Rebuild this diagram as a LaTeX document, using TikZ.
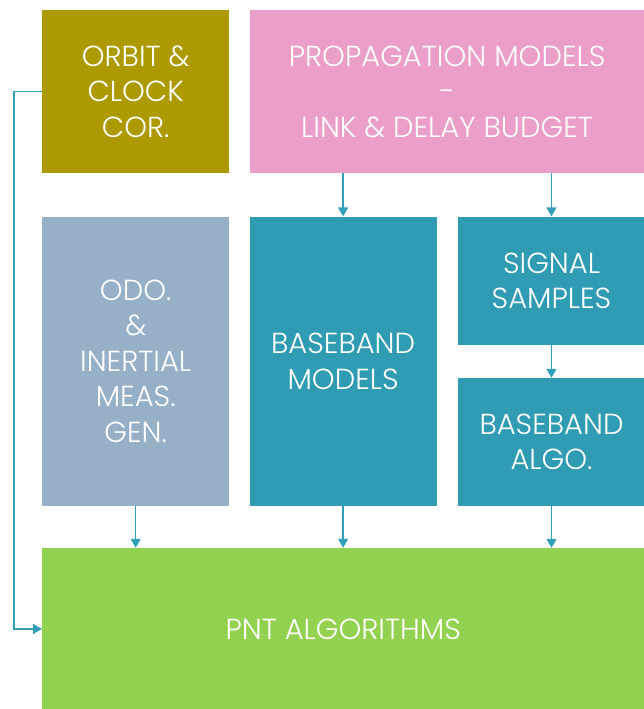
\documentclass[tikz,border=0pt]{standalone}
\usepackage{fontspec}
\setmainfont{Poppins}[UprightFont=* Light]
\usepackage{tikz}
\usetikzlibrary{positioning}
\usetikzlibrary{arrows.meta}
\definecolor{olivebox}{RGB}{173,154,0}
\definecolor{pinkbox}{RGB}{234,158,200}
\definecolor{greybox}{RGB}{150,176,200}
\definecolor{tealbox}{RGB}{48,156,180}
\definecolor{greenbox}{RGB}{146,210,80}
\definecolor{linkcol}{RGB}{48,160,185}
\tikzset{block/.style={rectangle,inner sep=0pt,align=center,text=white,font=\fontsize{29}{35.5}\selectfont}}
\tikzset{link/.style={draw=linkcol,line width=1.4pt,-{Triangle[length=9pt,width=10pt]}}}

\begin{document}
\begin{tikzpicture}[x=1pt,y=1pt,node distance=20pt]
  \useasboundingbox (0,0) rectangle (644,-709);
  \node [block,fill=olivebox,minimum width=187pt,minimum height=163pt,anchor=north west]
    (orbit) at (42,-10) {ORBIT \&\\CLOCK\\COR.};
  \node [block,fill=pinkbox,minimum width=395pt,minimum height=163pt,right=20pt of orbit]
    (prop) {PROPAGATION MODELS\\-\\LINK \& DELAY BUDGET};
  \node [block,fill=greybox,minimum width=187pt,minimum height=289pt,below=43pt of orbit]
    (odo) {ODO.\\\&\\INERTIAL\\MEAS.\\GEN.};
  \node [block,fill=tealbox,minimum width=187pt,minimum height=289pt,right=20pt of odo]
    (bbmod) {BASEBAND\\MODELS};
  \node [block,fill=tealbox,minimum width=187pt,minimum height=128pt,
    right=21pt of bbmod.north east,anchor=north west] (samples) {SIGNAL\\SAMPLES};
  \node [block,fill=tealbox,minimum width=187pt,minimum height=128pt,below=33pt of samples]
    (algo) {BASEBAND\\ALGO.};
  \node [block,fill=greenbox,minimum width=602pt,minimum height=162pt,
    below=42pt of odo.south west,anchor=north west] (pnt) {PNT ALGORITHMS};

  \draw [link] (prop.south -| bbmod) -- (bbmod);
  \draw [link] (prop.south -| samples) -- (samples);
  \draw [link] (samples) -- (algo);
  \draw [link] (odo) -- (odo |- pnt.north);
  \draw [link] (bbmod) -- (bbmod |- pnt.north);
  \draw [link] (algo) -- (algo |- pnt.north);
  \draw [link] (orbit.west) -- ++(-28,0) |- (pnt.west);
\end{tikzpicture}
\end{document}
